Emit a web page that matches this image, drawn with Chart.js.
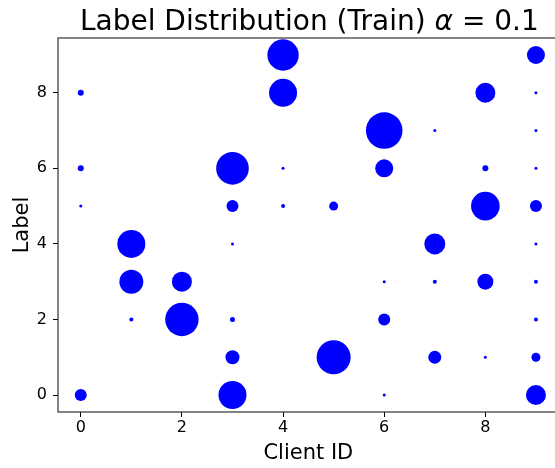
<!DOCTYPE html>
<html>
<head>
<meta charset="utf-8">
<script src="https://cdn.jsdelivr.net/npm/chart.js@4/dist/chart.umd.min.js"></script>
<style>
  html, body { margin: 0; padding: 0; background: #fff; overflow: hidden; }
  canvas { display: block; }
</style>
</head>
<body>
<canvas id="c" width="577" height="468" style="width:577px;height:468px"></canvas>
<script>
// Samples per (client, label) pair; bubble area grows with the count.
const clientIds = [0,0,0,0, 1,1,1, 2,2, 3,3,3,3,3,3, 4,4,4,4, 5,5, 6,6,6,6,6, 7,7,7,7, 8,8,8,8,8, 9,9,9,9,9,9,9,9,9,9];
const labelIds  = [8,6,5,0, 4,3,2, 3,2, 6,5,4,2,1,0, 9,8,6,5, 5,1, 7,6,3,2,0, 7,4,3,1, 8,6,5,3,1, 9,8,7,6,5,4,3,2,1,0];
const counts    = [144,144,36,576, 3136,2304,64, 1600,4460, 4250,576,36,100,784,3136, 3940,3136,36,64, 324,4620,
                   5360,1296,36,576,36, 36,1764,64,676, 1600,144,3270,1024,36,
                   1296,36,36,36,576,36,64,64,324,1600];
const xTicks = [0, 2, 4, 6, 8];
const yTicks = [0, 2, 4, 6, 8];

const FONT = "'DejaVu Sans', sans-serif";

const points = clientIds.map((c, i) => ({ x: c, y: labelIds[i], r: Math.sqrt(counts[i]) / 4 }));

// Frame around the plot area, drawn over the bubbles.
const frame = {
  id: 'frame',
  afterDatasetsDraw(chart) {
    const { ctx, chartArea: a } = chart;
    ctx.save();
    ctx.strokeStyle = '#333';
    ctx.lineWidth = 1.2;
    ctx.strokeRect(a.left, a.top, a.right - a.left, a.bottom - a.top);
    ctx.restore();
  }
};

// Title with an italic alpha.
const titleText = {
  id: 'titleText',
  afterDraw(chart) {
    const { ctx, chartArea: a } = chart;
    const parts = [
      { t: 'Label Distribution (Train) ', f: '28px ' + FONT },
      { t: 'α', f: 'italic 28px ' + FONT },
      { t: ' = 0.1', f: '28px ' + FONT }
    ];
    ctx.save();
    ctx.fillStyle = '#000';
    ctx.textBaseline = 'alphabetic';
    let total = 0;
    parts.forEach(p => { ctx.font = p.f; p.w = ctx.measureText(p.t).width; total += p.w; });
    let x = (a.left + a.right) / 2 - total / 2 + 1;
    parts.forEach(p => { ctx.font = p.f; ctx.fillText(p.t, x, 30); x += p.w; });
    ctx.restore();
  }
};

new Chart(document.getElementById('c'), {
  type: 'bubble',
  data: {
    datasets: [{
      data: points,
      backgroundColor: '#0000ff',
      borderWidth: 0,
      hoverBorderWidth: 0,
      hoverRadius: 0,
      clip: false
    }]
  },
  options: {
    responsive: false,
    animation: false,
    events: [],
    layout: { padding: { top: 38, right: 0, left: 0, bottom: 0 } },
    plugins: { legend: { display: false }, tooltip: { enabled: false }, title: { display: false } },
    scales: {
      x: {
        type: 'linear',
        min: -0.45, max: 9.45,
        afterBuildTicks: s => { s.ticks = xTicks.map(v => ({ value: v })); },
        afterFit: s => { s.height = 56; s.paddingLeft = 0; s.paddingRight = 0; },
        grid: { drawOnChartArea: false, drawTicks: true, tickLength: 5, color: '#000', lineWidth: 1 },
        border: { display: false },
        ticks: { color: '#000', font: { family: FONT, size: 16 }, padding: 1, maxRotation: 0 },
        title: { display: true, text: 'Client ID', color: '#000', font: { family: FONT, size: 21 }, padding: { top: 0, bottom: 2 } }
      },
      y: {
        type: 'linear',
        min: -0.45, max: 9.45,
        afterBuildTicks: s => { s.ticks = yTicks.map(v => ({ value: v })); },
        afterFit: s => { s.width = 58; s.paddingTop = 0; s.paddingBottom = 0; },
        grid: { drawOnChartArea: false, drawTicks: true, tickLength: 5, color: '#000', lineWidth: 1 },
        border: { display: false },
        ticks: { color: '#000', font: { family: FONT, size: 16 }, padding: 6 },
        title: { display: true, text: 'Label', color: '#000', font: { family: FONT, size: 21 }, padding: { top: 10, bottom: 0 } }
      }
    }
  },
  plugins: [frame, titleText]
});
</script>
</body>
</html>
